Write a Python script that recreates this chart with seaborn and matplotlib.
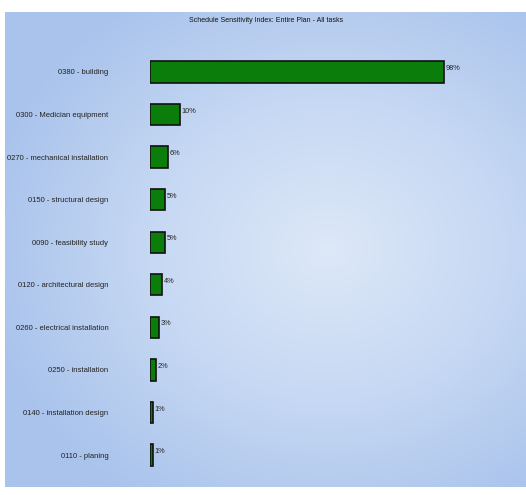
import numpy as np
import pandas as pd
import matplotlib
matplotlib.use("Agg")
import matplotlib.pyplot as plt
from matplotlib.colors import LinearSegmentedColormap
import seaborn as sns

# Task names and their sensitivity index (%)
tasks = [
    "0380 - building",
    "0300 - Medician equipment",
    "0270 - mechanical installation",
    "0150 - structural design",
    "0090 - feasibility study",
    "0120 - architectural design",
    "0260 - electrical installation",
    "0250 - installation",
    "0140 - installation design",
    "0110 - planing",
]
ssi = [98, 10, 6, 5, 5, 4, 3, 2, 1, 1]
title = "Schedule Sensitivity Index: Entire Plan - All tasks"

df = pd.DataFrame({"task": tasks, "ssi": ssi})

sns.set_theme(style="white")
plt.rcParams["font.family"] = ["Liberation Sans", "DejaVu Sans"]

W, H = 526, 495
fig = plt.figure(figsize=(W / 100, H / 100), dpi=100)
fig.patch.set_facecolor("white")

# Soft blue gradient panel behind the chart
bg = fig.add_axes([5 / W, 8 / H, 521 / W, 475 / H])
yy, xx = np.mgrid[0:1:300j, 0:1:300j]
r = np.sqrt(((xx - 0.62) / 0.9) ** 2 + ((yy - 0.5) / 0.85) ** 2)
cmap = LinearSegmentedColormap.from_list("panel", ["#dde8f8", "#c6d8f3", "#a9c3ec"])
bg.imshow(r, cmap=cmap, aspect="auto", extent=(0, 1, 0, 1), vmin=0, vmax=0.75)
bg.set_axis_off()

# Bar area: zero at x=150 px, 3 px per percent
left_px, right_px = 150, 520
ax = fig.add_axes([left_px / W, 1 - 476.3 / H, (right_px - left_px) / W, 425.6 / H])
ax.patch.set_alpha(0)
sns.barplot(data=df, x="ssi", y="task", orient="h", color="#0b7d0b",
            saturation=1, edgecolor="#111111", linewidth=1.2, width=0.5, ax=ax)
ax.set_xlim(0, (right_px - left_px) / 3.0)
ax.set_ylim(len(tasks) - 0.5, -0.5)
ax.set_xlabel("")
ax.set_ylabel("")
ax.set_xticks([])
ax.tick_params(axis="y", length=0, pad=30, labelsize=5.5, labelcolor="#222222")
for s in ax.spines.values():
    s.set_visible(False)

for i, v in enumerate(ssi):
    ax.text(v + 0.6, i - 0.08, f"{v}%", fontsize=5.3, color="#222222",
            ha="left", va="center")

fig.text(266 / W, 1 - 20 / H, title, ha="center", va="center",
         fontsize=5.0, color="#111111")

fig.savefig("out.png", dpi=100)
